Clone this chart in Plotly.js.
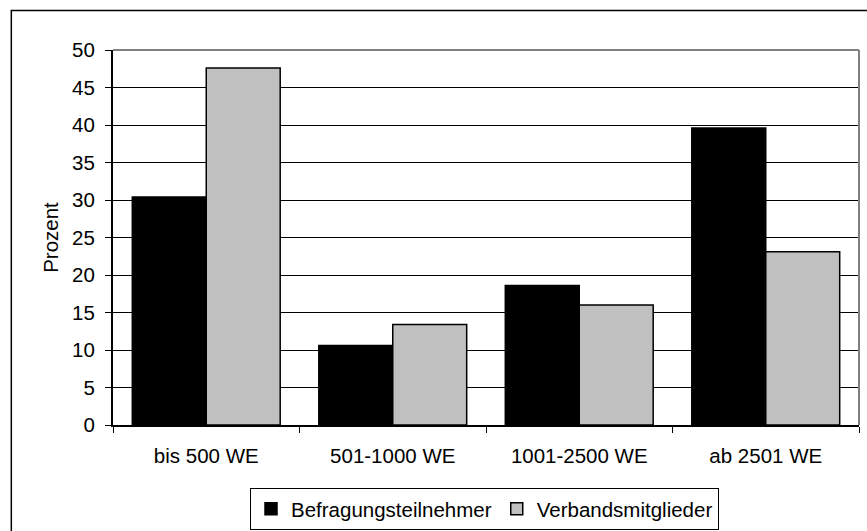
<!DOCTYPE html>
<html>
<head>
<meta charset="utf-8">
<script src="https://cdn.plot.ly/plotly-3.0.1.min.js"></script>
<style>html,body{margin:0;padding:0;background:#fff;}#chart{width:867px;height:531px;}</style>
</head>
<body>
<div id="chart"></div>
<script>
const categories = ["bis 500 WE", "501-1000 WE", "1001-2500 WE", "ab 2501 WE"];
const befragung = [30.4, 10.6, 18.6, 39.6];
const verband = [47.6, 13.4, 16.0, 23.1];
const seriesNames = ["Befragungsteilnehmer", "Verbandsmitglieder"];
const yTicks = [0, 5, 10, 15, 20, 25, 30, 35, 40, 45, 50];

const font = {family: "Liberation Sans, Arial, sans-serif", size: 20.5, color: "#000"};

const data = [
  {type: "bar", x: categories, y: befragung, name: seriesNames[0],
   marker: {color: "#000000", line: {color: "#000000", width: 1.5}}},
  {type: "bar", x: categories, y: verband, name: seriesNames[1],
   marker: {color: "#c0c0c0", line: {color: "#000000", width: 1.5}}}
];

const layout = {
  width: 867, height: 531,
  margin: {l: 113, r: 8, t: 50, b: 106},
  paper_bgcolor: "#fff", plot_bgcolor: "#fff",
  font: font,
  barmode: "group", bargap: 0.207, bargroupgap: 0,
  showlegend: true,
  legend: {orientation: "h", xref: "paper", x: 0.498, xanchor: "center",
           yref: "container", y: 0.002, yanchor: "bottom",
           bordercolor: "#000", borderwidth: 1, font: font, traceorder: "normal",
           itemwidth: 30, tracegroupgap: 0},
  xaxis: {type: "category", showline: true, linecolor: "#000", linewidth: 2,
          ticks: "outside", tickson: "boundaries", ticklen: 6, tickcolor: "#000",
          ticklabelstandoff: 11,
          showgrid: false, tickfont: font, zeroline: false, automargin: false},
  yaxis: {range: [0, 50], tickvals: yTicks, ticktext: yTicks.map(String),
          showline: true, linecolor: "#000", linewidth: 2,
          ticks: "outside", ticklen: 6, tickcolor: "#000",
          ticklabelstandoff: 6,
          showgrid: true, gridcolor: "#000", gridwidth: 1, zeroline: false,
          tickfont: font, automargin: false,
          title: {text: "Prozent", font: font, standoff: 8}},
  shapes: [
    {type: "line", xref: "paper", yref: "paper", x0: 0, x1: 1, y0: 1, y1: 1,
     line: {color: "#808080", width: 2}},
    {type: "line", xref: "paper", yref: "paper", x0: 1, x1: 1, y0: 0, y1: 1,
     line: {color: "#808080", width: 2}},
    {type: "rect", xref: "paper", yref: "paper", x0: -0.1363, x1: 1.08, y0: -0.5, y1: 1.1055,
     line: {color: "#000", width: 1.5}, fillcolor: "rgba(0,0,0,0)", layer: "above"}
  ]
};

Plotly.newPlot("chart", data, layout, {staticPlot: true, displayModeBar: false});
</script>
</body>
</html>
